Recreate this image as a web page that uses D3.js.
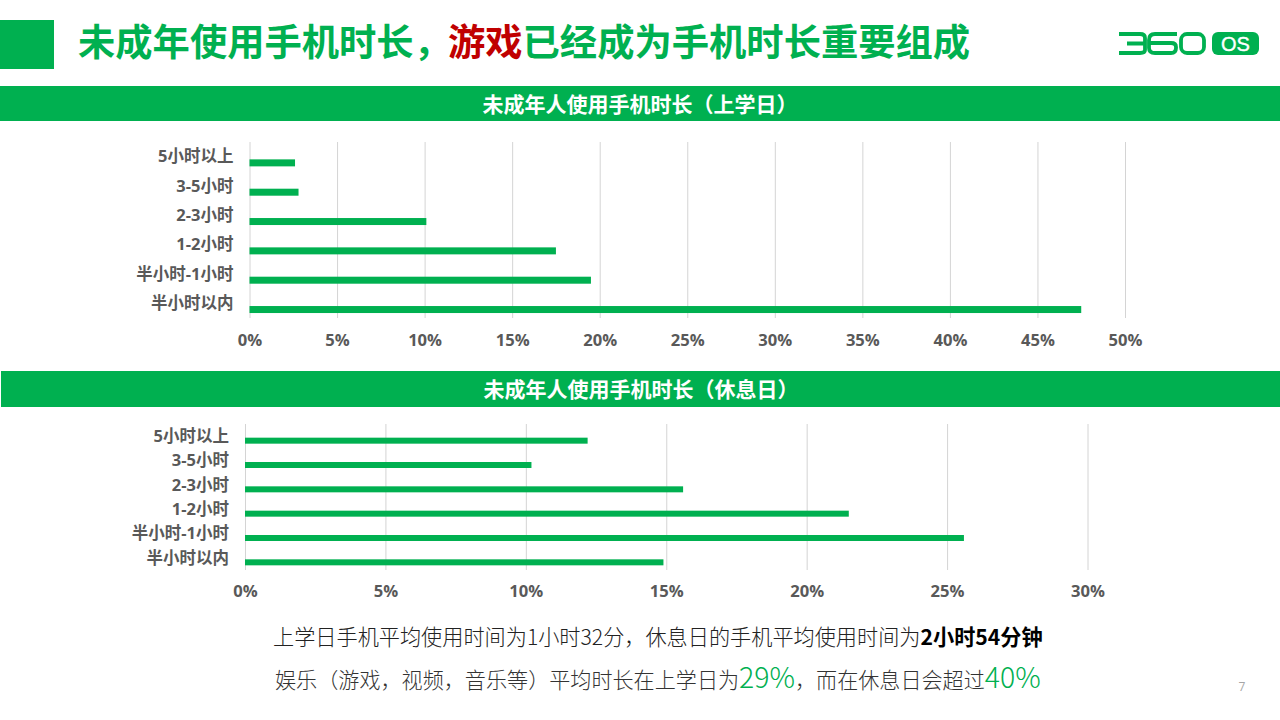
<!DOCTYPE html>
<html>
<head>
<meta charset="utf-8">
<script src="https://cdn.jsdelivr.net/npm/d3@7/dist/d3.min.js"></script>
<style>
  html, body { margin: 0; padding: 0; background: #fff; }
  svg { display: block; }
  text { font-family: "Open Sans", "Noto Sans CJK SC", sans-serif; }
</style>
</head>
<body>
<script>
const width = 1280;
const height = 720;
const green = "#00b050";

const categories = ["5小时以上", "3-5小时", "2-3小时", "1-2小时", "半小时-1小时", "半小时以内"];
const schoolDay = [2.6, 2.8, 10.1, 17.5, 19.5, 47.5];
const restDay = [12.2, 10.2, 15.6, 21.5, 25.6, 14.9];
const schoolTicks = [0, 5, 10, 15, 20, 25, 30, 35, 40, 45, 50];
const restTicks = [0, 5, 10, 15, 20, 25, 30];

const svg = d3.select("body")
    .append("svg")
    .attr("width", width)
    .attr("height", height);

// header
svg.append("rect").attr("x", 0).attr("y", 20).attr("width", 54).attr("height", 49).attr("fill", green);

const title = svg.append("text")
    .attr("x", 78).attr("y", 56)
    .attr("font-size", 37.3).attr("font-weight", 700)
    .attr("fill", green);
title.append("tspan").text("未成年使用手机时长，");
title.append("tspan").attr("fill", "#c00000").attr("dx", -3).text("游戏");
title.append("tspan").text("已经成为手机时长重要组成");

// logo
const logo = svg.append("g").attr("fill", "none").attr("stroke", green).attr("stroke-width", 3.8);
logo.append("title").text("360 OS");
logo.append("path").attr("d", "M1119 34H1140Q1145 34 1145 38V50Q1145 53 1140 53H1119M1127 43.5H1144");
logo.append("path").attr("d", "M1177 34H1155Q1149 34 1149 40V48Q1149 53 1155 53H1171Q1176 53 1176 48V47Q1176 43 1171 43H1150");
logo.append("rect").attr("x", 1181).attr("y", 34).attr("width", 23).attr("height", 19).attr("rx", 6);
svg.append("rect").attr("x", 1212).attr("y", 32).attr("width", 47).attr("height", 23).attr("rx", 6).attr("fill", green);
svg.append("text").attr("x", 1235.5).attr("y", 50.5)
    .attr("text-anchor", "middle").attr("font-size", 20).attr("fill", "#fff")
    .attr("stroke", "#fff").attr("stroke-width", 0.4)
    .style("font-family", "'Liberation Sans'").text("OS");

function drawChart(cfg) {
    svg.append("rect")
        .attr("x", cfg.bandX).attr("y", cfg.bandY)
        .attr("width", width - cfg.bandX).attr("height", cfg.bandH)
        .attr("fill", green);
    svg.append("text")
        .attr("x", cfg.titleX).attr("y", cfg.bandY + cfg.bandH / 2 + 8)
        .attr("text-anchor", "middle")
        .attr("font-size", 21).attr("font-weight", 700).attr("fill", "#fff")
        .text(cfg.title);

    const xScale = d3.scaleLinear()
        .domain([0, d3.max(cfg.ticks)])
        .range([cfg.x0, cfg.x1]);
    const yScale = d3.scaleBand()
        .domain(categories)
        .range([cfg.top, cfg.bottom]);

    const xAxis = d3.axisBottom(xScale)
        .tickValues(cfg.ticks)
        .tickFormat(d => d + "%")
        .tickSize(-(cfg.bottom - cfg.top))
        .tickPadding(cfg.tickPad);
    const yAxis = d3.axisLeft(yScale).tickSize(0).tickPadding(16);

    const gx = svg.append("g")
        .attr("transform", `translate(0, ${cfg.bottom})`)
        .call(xAxis);
    gx.select(".domain").remove();
    gx.selectAll("line").attr("stroke", "#d4d4d4");
    gx.selectAll("text")
        .attr("font-size", 16.6).attr("font-weight", 700).attr("fill", "#595959")
        .style("font-family", "'Open Sans', 'Noto Sans CJK SC'");

    const gy = svg.append("g")
        .attr("transform", `translate(${cfg.x0}, 0)`)
        .call(yAxis);
    gy.select(".domain").remove();
    gy.selectAll("text")
        .attr("font-size", 16.5).attr("font-weight", 700).attr("fill", "#595959")
        .attr("dy", "0.35em")
        .style("font-family", "'Open Sans', 'Noto Sans CJK SC'");

    svg.append("g").selectAll("rect")
        .data(cfg.values)
        .enter()
        .append("rect")
        .attr("x", xScale(0))
        .attr("y", (d, i) => yScale(categories[i]) + yScale.bandwidth() / 2 + cfg.barOffset - cfg.barH / 2)
        .attr("width", d => xScale(d) - xScale(0))
        .attr("height", cfg.barH)
        .attr("fill", green);
}

drawChart({
    title: "未成年人使用手机时长（上学日）",
    values: schoolDay, ticks: schoolTicks,
    bandX: 0, bandY: 86, bandH: 35, titleX: 640,
    x0: 249.5, x1: 1125, top: 142, bottom: 318,
    barH: 7, barOffset: 6.2, tickPad: 16
});

drawChart({
    title: "未成年人使用手机时长（休息日）",
    values: restDay, ticks: restTicks,
    bandX: 1, bandY: 371, bandH: 36, titleX: 641,
    x0: 245, x1: 1087.5, top: 424, bottom: 570,
    barH: 6, barOffset: 4.5, tickPad: 15
});

// bottom notes
const note1 = svg.append("text")
    .attr("x", 273).attr("y", 644.5)
    .attr("font-size", 21.17).attr("font-weight", 300).attr("fill", "#222")
    .style("font-family", "'Noto Sans CJK SC'");
note1.append("tspan").text("上学日手机平均使用时间为1小时32分，休息日的手机平均使用时间为");
note1.append("tspan").attr("font-weight", 700).attr("fill", "#000").text("2小时54分钟");

const note2 = svg.append("text")
    .attr("x", 275).attr("y", 688)
    .attr("font-size", 21.1).attr("font-weight", 300).attr("fill", "#333")
    .style("font-family", "'Noto Sans CJK SC'");
note2.append("tspan").text("娱乐（游戏，视频，音乐等）平均时长在上学日为");
note2.append("tspan").attr("font-size", 28.4).attr("fill", green).text("29%");
note2.append("tspan").text("，而在休息日会超过");
note2.append("tspan").attr("font-size", 28.4).attr("fill", green).text("40%");

svg.append("text").attr("x", 1242).attr("y", 691)
    .attr("text-anchor", "middle").attr("font-size", 12).attr("fill", "#a6a6a6")
    .text("7");
</script>
</body>
</html>
